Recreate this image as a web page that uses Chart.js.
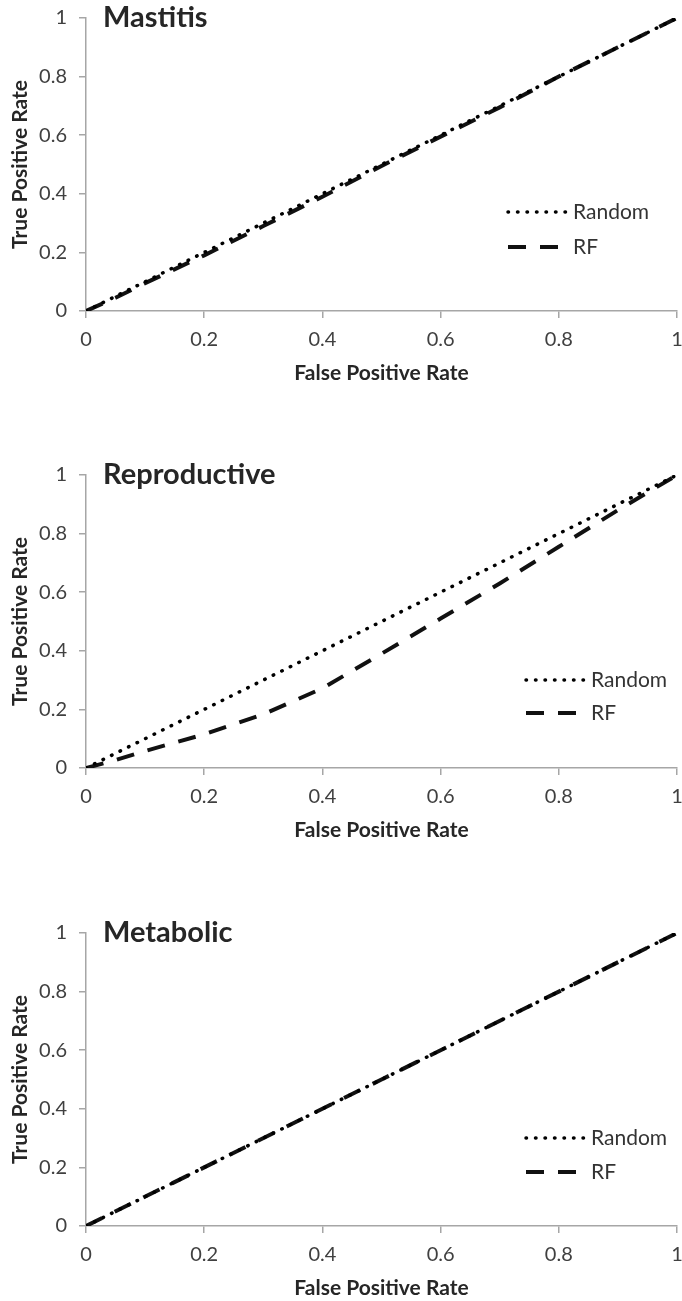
<!DOCTYPE html>
<html>
<head>
<meta charset="utf-8">
<title>ROC curves</title>
<script src="https://cdn.jsdelivr.net/npm/chart.js@4.4.1/dist/chart.umd.min.js"></script>
<style>
  html, body { margin: 0; padding: 0; background: #fff; }
  .page { position: relative; width: 682px; height: 1301px; }
  .panel { position: absolute; left: 0; width: 682px; height: 386px; }
</style>
</head>
<body>
<div class="page">
  <div class="panel" style="top:0px"><canvas id="mastitisChart" width="682" height="386"></canvas></div>
  <div class="panel" style="top:457px"><canvas id="reproductiveChart" width="682" height="386"></canvas></div>
  <div class="panel" style="top:915px"><canvas id="metabolicChart" width="682" height="386"></canvas></div>
</div>
<script>
// axis tick labels (shared by both axes)
const tickLabels = ['0', '0.2', '0.4', '0.6', '0.8', '1'];

// random classifier reference line
const randomFpr = [0, 1];
const randomTpr = [0, 1];

// RF curves
const mastitisFpr = [0, 0.05, 0.1, 0.2, 0.3, 0.4, 0.5, 0.6, 0.7, 0.8, 0.9, 1];
const mastitisTpr = [0, 0.045, 0.095, 0.19, 0.29, 0.39, 0.495, 0.595, 0.695, 0.8, 0.9, 1];

const reproductiveFpr = [0, 0.05, 0.1, 0.2, 0.3, 0.4, 0.5, 0.6, 0.7, 0.8, 0.9, 0.95, 1];
const reproductiveTpr = [0, 0.027, 0.058, 0.115, 0.183, 0.272, 0.39, 0.51, 0.63, 0.755, 0.88, 0.94, 1];

const metabolicFpr = [0, 0.5, 1];
const metabolicTpr = [0, 0.5, 1];

const FONT = 'Lato, "Open Sans", sans-serif';
const AXIS_GRAY = '#a6a6a6';

function toPoints(xs, ys) {
    return xs.map((x, i) => ({ x: x, y: ys[i] }));
}

// title and legend sit inside the plot area, like the spreadsheet original
const insideLabels = {
    id: 'insideLabels',
    afterDraw(chart, args, opts) {
        const ctx = chart.ctx;
        const area = chart.chartArea;
        ctx.save();

        ctx.fillStyle = '#262626';
        ctx.font = 'bold 29px ' + FONT;
        ctx.textAlign = 'left';
        ctx.textBaseline = 'alphabetic';
        ctx.fillText(opts.title, 103, area.top + 9);

        chart.data.datasets.forEach((ds, i) => {
            const y = area.top + opts.legendY[i];
            ctx.strokeStyle = ds.borderColor;
            ctx.lineWidth = ds.borderWidth;
            ctx.lineCap = ds.borderCapStyle;
            ctx.setLineDash(ds.borderDash);
            ctx.beginPath();
            ctx.moveTo(opts.legendX, y);
            ctx.lineTo(opts.legendX + 58, y);
            ctx.stroke();
            ctx.setLineDash([]);
            ctx.fillStyle = '#333333';
            ctx.font = '21px ' + FONT;
            ctx.textBaseline = 'middle';
            ctx.fillText(ds.label, opts.legendX + 65, y);
        });
        ctx.restore();
    }
};

function axisOptions(titleText, isX) {
    return {
        type: 'linear',
        min: 0,
        max: 1,
        afterBuildTicks: axis => {
            axis.ticks = tickLabels.map(t => ({ value: parseFloat(t) }));
        },
        afterFit: axis => {
            // fixed axis boxes, no extra room for the end labels
            if (isX) axis.height = 75;
            else axis.width = 86;
            axis.paddingLeft = 0;
            axis.paddingRight = 0;
            axis.paddingTop = 0;
            axis.paddingBottom = 0;
        },
        grid: {
            drawOnChartArea: false,
            drawTicks: true,
            tickLength: 7,
            color: AXIS_GRAY,
            lineWidth: 1.5
        },
        border: { color: AXIS_GRAY, width: 1.5 },
        ticks: {
            padding: isX ? 10 : 12,
            color: '#404040',
            font: { family: FONT, size: 20 },
            maxRotation: 0,
            callback: (v, i) => tickLabels[i]
        },
        title: {
            display: true,
            text: titleText,
            color: '#262626',
            font: { family: FONT, size: 21, weight: 'bold' },
            padding: isX ? { top: 4, bottom: 0 } : { top: 8, bottom: 0 }
        }
    };
}

function renderRocChart(canvasId, title, rfFpr, rfTpr, legendX, legendY) {
    new Chart(document.getElementById(canvasId), {
        type: 'line',
        data: {
            datasets: [
                {
                    label: 'Random',
                    data: toPoints(randomFpr, randomTpr),
                    borderColor: '#000000',
                    borderWidth: 3.5,
                    borderDash: [0.5, 9],
                    borderCapStyle: 'round',
                    pointRadius: 0,
                    fill: false
                },
                {
                    label: 'RF',
                    data: toPoints(rfFpr, rfTpr),
                    borderColor: '#111111',
                    borderWidth: 4,
                    borderDash: [18, 14],
                    borderCapStyle: 'butt',
                    pointRadius: 0,
                    tension: 0,
                    fill: false
                }
            ]
        },
        options: {
            responsive: false,
            animation: false,
            layout: { padding: { top: 18, right: 5, left: 0, bottom: 0 } },
            plugins: {
                legend: { display: false },
                tooltip: { enabled: false },
                insideLabels: { title: title, legendX: legendX, legendY: legendY }
            },
            scales: {
                x: axisOptions('False Positive Rate', true),
                y: axisOptions('True Positive Rate', false)
            }
        },
        plugins: [insideLabels]
    });
}

document.addEventListener('DOMContentLoaded', () => {
    renderRocChart('mastitisChart', 'Mastitis', mastitisFpr, mastitisTpr, 508, [194, 229]);
    renderRocChart('reproductiveChart', 'Reproductive', reproductiveFpr, reproductiveTpr, 526, [205, 238]);
    renderRocChart('metabolicChart', 'Metabolic', metabolicFpr, metabolicTpr, 526, [205, 239]);
});
</script>
</body>
</html>
